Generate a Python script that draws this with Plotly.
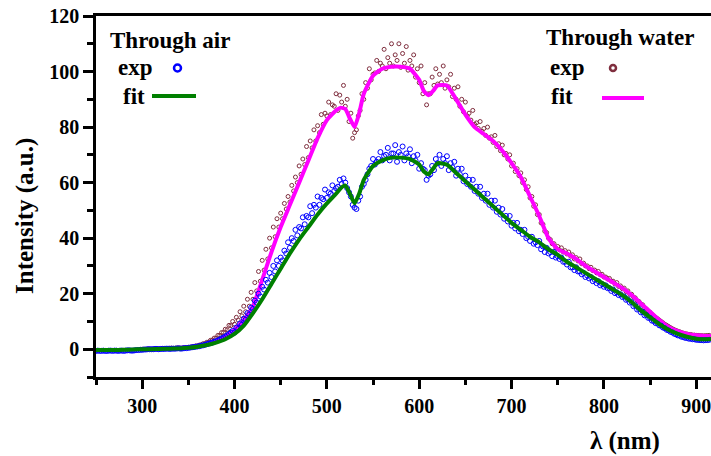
import plotly.graph_objects as go

# ---------------- data ----------------
# fitted curves
fit_air_x = [250, 260, 270, 280, 290, 300, 310, 320, 330, 340, 350, 360, 370, 380, 390, 400,
             410, 420, 430, 440, 450, 460, 470, 480, 490, 500, 510, 515, 520, 525, 530, 535,
             540, 550, 560, 570, 580, 590, 600, 605, 610, 615, 620, 630, 640, 650, 660, 670,
             680, 690, 700, 710, 720, 730, 740, 750, 760, 770, 780, 790, 800, 810, 820, 830,
             840, 850, 860, 870, 880, 890, 900, 910, 916]
fit_air_y = [-0.3, -0.3, -0.3, -0.2, -0.1, 0, 0, 0.1, 0.2, 0.3, 0.5, 0.9, 1.5, 2.4, 3.6, 5.5,
             8.5, 13, 18, 23.5, 29, 34.5, 39.5, 44, 48.5, 52.5, 56, 58, 59, 56, 52.5, 56,
             61, 66, 68, 69, 69, 68.5, 66.5, 64, 63, 65, 67, 66.5, 63.5, 60.5, 57.5, 54.5,
             51.5, 48.5, 45.5, 43, 40.5, 38.5, 36, 34, 31.5, 29.5, 27.5, 25.5, 23.5, 21.5, 19.5, 17,
             14, 11.5, 9, 7, 5.5, 4.5, 3.8, 3.6, 3.7]

fit_water_x = [300, 310, 320, 330, 340, 350, 360, 370, 380, 390, 400,
               410, 420, 430, 440, 450, 460, 470, 480, 490, 500, 510, 515, 520, 525, 530, 535,
               540, 550, 560, 570, 580, 590, 600, 605, 610, 615, 620, 630, 640, 650, 660, 670,
               680, 690, 700, 710, 720, 730, 740, 750, 760, 770, 780, 790, 800, 810, 820, 830,
               840, 850, 860, 870, 880, 890, 900, 910, 916]
fit_water_y = [0, 0, 0.1, 0.2, 0.3, 0.6, 1, 1.7, 2.8, 4.5, 7,
               10.5, 15.5, 25, 35, 44, 52, 60, 68, 76, 82.5, 86, 87, 86.5, 83, 80, 85,
               92, 98.5, 101, 101.7, 101.7, 101, 97, 93, 91.5, 93, 95, 95, 90, 84.5, 80, 77.5,
               75, 71.5, 67, 62, 55, 48, 40, 36, 34.5, 32.5, 30, 28, 26, 24, 22, 19.5,
               16.5, 13.5, 10.5, 8, 6.5, 5.5, 5, 4.8, 4.8]

# experimental points: upper part of the scatter (250..914 nm, 4 nm)
exp_x = list(range(250, 915, 4))
exp_air = [-0.6, -0.6, -0.5, -0.6, -0.5, -0.5, -0.6, -0.5, -0.5, -0.4, -0.5, -0.3, -0.2,
           -0.1, 0, 0, 0.1, 0, 0.1, 0.2, 0.1, 0.2, 0.3, 0.2, 0.4,
           0.5, 0.7, 0.9, 1.1, 1.4, 1.8, 2.2, 2.7, 3.2, 3.9, 4.6, 5.5, 6.6,
           7.8, 9.3, 11, 13, 15, 17.5, 20, 22.5, 25, 27.5, 30, 32,
           33, 35.5, 38.5, 40, 43, 44, 47.5, 48, 51.5, 52, 55, 54.5, 57.5,
           56.5, 59, 58, 61, 61.5, 58, 55, 51, 53.5, 58.5, 61, 65,
           68.5, 67.5, 71, 69.5, 72.5, 70.5, 73.5, 71, 73, 70.5, 72, 69.5, 70,
           67, 64.5, 62.5, 66, 68.5, 70, 68.5, 69.5, 67, 67.5, 65, 65,
           62.5, 61, 61, 58.5, 58.5, 56, 56, 53.5, 53.5, 51, 50.5, 48, 48,
           45.5, 45.5, 43, 43, 40.5, 40.5, 38.5, 39, 37, 36.5, 35, 35,
           33.5, 33, 31.5, 31.5, 29.5, 29.5, 28, 27.5, 26.5, 26, 25, 24.5, 23.5,
           23, 22, 21.5, 20.5, 19.8, 19, 18, 17, 15.8, 14.5, 13.5, 12.3,
           11.3, 10.2, 9.3, 8.5, 7.6, 6.8, 6.1, 5.4, 4.9, 4.4, 4.1, 3.8, 3.6, 3.4, 3.3, 3.3, 3.4]
exp_water = [None, None, None, None, None, None, None, None, None, None, None, None, None,
             0, 0.1, 0, 0.2, 0.1, 0.3, 0.2, 0.4, 0.3, 0.5, 0.4, 0.6,
             0.7, 0.9, 1.2, 1.5, 2, 2.5, 3.2, 4, 5, 6, 7.2, 8.6, 10,
             11.5, 13.5, 15.5, 18, 20.5, 24, 28, 32, 36, 40, 44, 47,
             49, 52.5, 55, 59, 62, 66, 68.5, 73, 75, 79, 80.5, 84.5, 85,
             89, 88, 92, 91.5, 95, 90, 85, 78, 84, 92, 96, 101,
             99, 104, 103, 108, 105, 110, 106, 110, 106.5, 109, 104, 106, 101,
             102, 96, 92, 98, 101, 99, 102, 97, 99, 94, 94.5, 90,
             89, 85, 86, 81.5, 82, 79.5, 80, 76.5, 77, 74, 73.5, 70.5, 70,
             67, 65, 63.5, 61, 58.5, 55, 52, 48.5, 45, 42, 39.5, 38,
             37, 36.5, 35.5, 35, 34, 33, 32.5, 31, 30, 29.5, 28.5, 28, 27,
             26, 25.5, 24.5, 24, 22.8, 22, 21, 19.8, 18.5, 17.2, 16, 14.5,
             13.3, 12, 11, 10, 9, 8.2, 7.4, 6.8, 6.3, 5.8, 5.5, 5.3, 5.1, 5, 4.9, 4.9, 5]

# experimental points: lower part of the scatter (252..912 nm, 4 nm)
exp_x2 = list(range(252, 915, 4))
exp_air_low = [-0.5, -0.6, -0.6, -0.5, -0.6, -0.5, -0.5, -0.6, -0.4, -0.5, -0.4, -0.3,
               -0.2, -0.1, 0, 0, 0.1, 0.1, 0.1, 0.2, 0.2, 0.2, 0.3, 0.3, 0.4,
               0.6, 0.8, 1, 1.3, 1.6, 2, 2.4, 2.9, 3.5, 4.2, 5, 6,
               6, 7.3, 8.8, 10.6, 12.5, 14.5, 16.8, 19, 21.5, 24, 26, 28, 30,
               32, 34.5, 36.5, 39, 41, 43.5, 45, 47.5, 49, 51, 52, 54,
               54.5, 56, 57, 58.5, 59.5, 60, 56.5, 52, 50.5, 55, 59.5, 63, 66,
               66.5, 68.5, 68, 70, 68, 70.5, 67.5, 70, 68, 69.5, 67, 68,
               65, 65, 61, 63, 64.5, 67, 66, 67, 64.5, 65.5, 62.5, 63, 60.5,
               59.5, 58.5, 57, 56, 54.5, 53.5, 52, 51, 49.5, 48.5, 47, 46,
               44.5, 43.5, 42.5, 41.5, 40, 39, 38, 37.5, 36, 35, 34.5, 33.5, 33,
               32.5, 31.5, 30.5, 29.5, 28.5, 28, 27, 26, 25.5, 24.5, 23.8, 23,
               22.5, 22, 21, 20.2, 19.5, 18.8, 17.8, 16.8, 15.5, 14.3, 13.3, 12.2, 11.3,
               10.3, 9.4, 8.6, 7.8, 7, 6.3, 5.6, 5, 4.5, 4.1, 3.8, 3.6, 3.4, 3.3, 3.2, 3.3]
exp_water_low = [None, None, None, None, None, None, None, None, None, None, None, None,
                 0, 0, 0.1, 0.1, 0.2, 0.2, 0.3, 0.3, 0.4, 0.4, 0.5, 0.5, 0.6,
                 0.7, 1, 1.2, 1.6, 2, 2.6, 3.3, 4, 5, 6, 7, 8.5,
                 9, 10.5, 12, 13.5, 15.5, 18, 21, 24.5, 28.5, 32.5, 36.5, 40.5, 44,
                 47, 50.5, 53, 57, 60, 63, 66.5, 69, 72.5, 75, 78, 81,
                 84, 84.5, 87.5, 86, 89, 87.5, 82, 76, 79, 86, 90, 94, 97,
                 99.5, 100, 102, 101, 103, 102, 104, 101.5, 103, 100.5, 102, 98,
                 96, 92, 88, 92, 95, 95.5, 96, 94, 94.5, 91, 90, 87.5, 85.5,
                 84, 82.5, 81, 79.5, 78.5, 77, 76, 74.5, 73, 71.5, 70, 68.5,
                 66, 64, 62.5, 60, 57.5, 54.5, 51.5, 48.5, 45.5, 42.5, 40, 38, 36.5,
                 35.8, 35, 34.3, 33.5, 32.5, 31.8, 30.8, 30, 29, 28.3, 27.5, 26.8,
                 26, 25.3, 24.5, 23.5, 22.6, 21.8, 20.8, 19.8, 18.8, 17.5, 16.3, 15, 13.8,
                 12.6, 11.5, 10.5, 9.5, 8.6, 7.8, 7.1, 6.5, 6, 5.6, 5.3, 5.1, 5, 4.9, 4.8, 4.9]

x_range = [250, 916]
y_range = [-10, 120]

# ---------------- styles ----------------
FONT = "Liberation Serif"
BLUE = "#0000FF"
GREEN = "#008000"
MAGENTA = "#FF00FF"
MAROON = "#7F2E3E"

W, H = 711, 456
ML, MR, MT, MB = 96, 0, 16, 79
PW, PH = W - ML - MR, H - MT - MB


def px(xp):
    return (xp - ML) / PW


def py(yp):
    return (H - MB - yp) / PH


fig = go.Figure()
fig.add_trace(go.Scatter(x=exp_x + exp_x2, y=exp_water + exp_water_low, mode="markers",
                         marker=dict(symbol="circle-open", size=4, color=MAROON,
                                     line=dict(width=1, color=MAROON)),
                         showlegend=False, hoverinfo="skip"))
fig.add_trace(go.Scatter(x=fit_water_x, y=fit_water_y, mode="lines",
                         line=dict(color=MAGENTA, width=4, shape="spline", smoothing=0.5),
                         showlegend=False, hoverinfo="skip"))
fig.add_trace(go.Scatter(x=exp_x + exp_x2, y=exp_air + exp_air_low, mode="markers",
                         marker=dict(symbol="circle-open", size=5, color=BLUE,
                                     line=dict(width=1, color=BLUE)),
                         showlegend=False, hoverinfo="skip"))
fig.add_trace(go.Scatter(x=fit_air_x, y=fit_air_y, mode="lines",
                         line=dict(color=GREEN, width=4, shape="spline", smoothing=0.5),
                         showlegend=False, hoverinfo="skip"))

tickfont = dict(family=FONT, size=20, color="black", weight="bold")
fig.update_xaxes(range=x_range, showline=True, linecolor="black", linewidth=2.5,
                 mirror=True, ticks="outside", ticklen=9, tickwidth=2.5, tickcolor="black",
                 dtick=100, tick0=0, tickfont=tickfont, showgrid=False, zeroline=False,
                 ticklabeloverflow="allow",
                 minor=dict(dtick=50, ticks="outside", ticklen=5, tickwidth=2.5,
                            tickcolor="black", showgrid=False))
fig.update_yaxes(range=y_range, showline=True, linecolor="black", linewidth=2.5,
                 ticks="outside", ticklen=10, tickwidth=2.5, tickcolor="black",
                 dtick=20, tick0=0, tickfont=tickfont, showgrid=False, zeroline=False,
                 minor=dict(dtick=10, ticks="outside", ticklen=6, tickwidth=2.5,
                            tickcolor="black", showgrid=False))

ann = []
shapes = []


def text(s, xp, yp, size, xanchor="left", angle=0):
    ann.append(dict(text=s, x=px(xp), y=py(yp), xref="paper", yref="paper",
                    xanchor=xanchor, yanchor="middle", showarrow=False, textangle=angle,
                    font=dict(family=FONT, size=size, color="black", weight="bold")))


# axis titles
text("Intensity (a.u.)", 25, 216, 25, xanchor="center", angle=-90)
text("λ (nm)", 625, 441, 25, xanchor="center")

# legend: through air
text("Through air", 108, 40, 23)
text("exp", 116, 68, 23)
text("fit", 121, 96, 23)
shapes.append(dict(type="circle", xref="paper", yref="paper",
                   x0=px(174), x1=px(181), y0=py(71.5), y1=py(64.5),
                   line=dict(color=BLUE, width=2.5)))
shapes.append(dict(type="line", xref="paper", yref="paper",
                   x0=px(152), x1=px(196), y0=py(96), y1=py(96),
                   line=dict(color=GREEN, width=4)))

# legend: through water
text("Through water", 544, 38, 23)
text("exp", 548, 68, 23)
text("fit", 549, 97, 23)
shapes.append(dict(type="circle", xref="paper", yref="paper",
                   x0=px(610), x1=px(616), y0=py(71), y1=py(65),
                   line=dict(color=MAROON, width=2.5)))
shapes.append(dict(type="line", xref="paper", yref="paper",
                   x0=px(602), x1=px(644), y0=py(98), y1=py(98),
                   line=dict(color=MAGENTA, width=4)))

fig.update_layout(width=W, height=H, margin=dict(l=ML, r=MR, t=MT, b=MB),
                  paper_bgcolor="white", plot_bgcolor="white",
                  font=dict(family=FONT),
                  annotations=ann, shapes=shapes, showlegend=False)

fig.write_html("out.html", config={"displayModeBar": False},
               post_script="document.body.style.margin='0';document.body.style.overflow='hidden';")
